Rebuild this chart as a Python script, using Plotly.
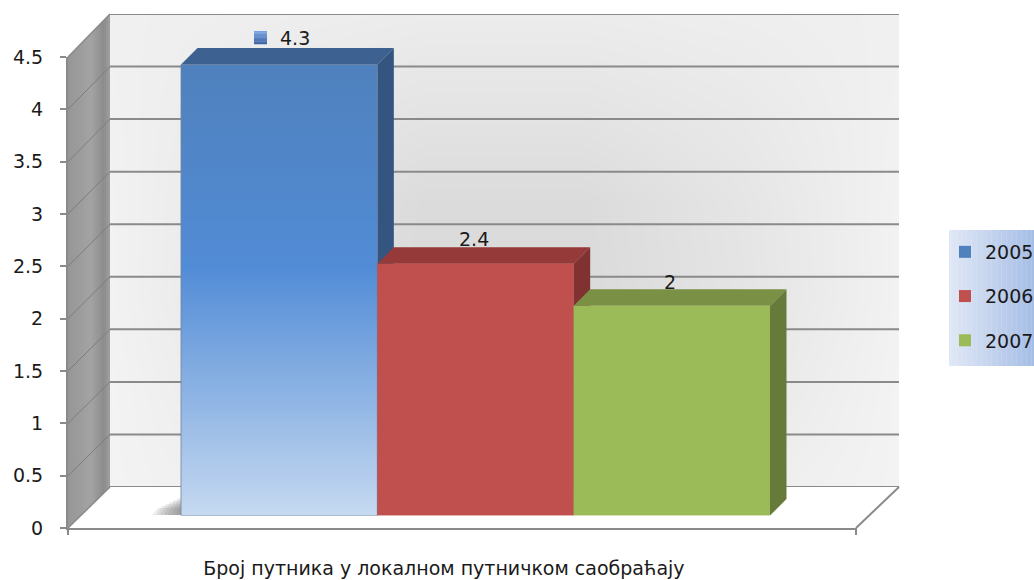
import plotly.graph_objects as go

# ---- data ----
CATEGORY = "Број путника у локалном путничком саобраћају"
YEARS = ["2005", "2006", "2007"]
VALUES = [4.3, 2.4, 2]
LABELS = ["4.3", "2.4", "2"]
Y_TICKS = [0, 0.5, 1, 1.5, 2, 2.5, 3, 3.5, 4, 4.5]
Y_TEXT = ["0", "0.5", "1", "1.5", "2", "2.5", "3", "3.5", "4", "4.5"]

# ---- styling ----
W, H = 1034, 580
FONT = "DejaVu Sans"
TXT = "#1a1a1a"
FRONT = ["#4f81bd", "#c0504d", "#9bbb59"]
TOP = ["#3d6190", "#953a38", "#7a9045"]
SIDE = ["#33557f", "#7f3230", "#667a39"]
LINE = "#8a8a8a"
# grey levels of the back wall, read on a coarse grid (bottom row first)
WALL_GREY = [
    [243, 238, 235, 236, 238, 243],
    [243, 232, 225, 226, 232, 243],
    [242, 228, 218, 218, 228, 242],
    [242, 229, 219, 219, 229, 242],
    [241, 233, 228, 228, 233, 241],
    [240, 238, 236, 236, 238, 240],
]


def px(x):
    return x / W


def py(y):
    return 1 - y / H


def mix(a, b, t):
    return tuple(a[i] + (b[i] - a[i]) * t for i in range(3))


def rgb(c):
    return "rgb(%d,%d,%d)" % tuple(round(v) for v in c)


# pixel frames
BACK_L, BACK_R, BACK_0, BACK_T = 110, 899, 487, 14
FR_L, FR_R, FR_0, FR_T = 68, 856, 528, 57
BAR_L, BAR_R, BAR_0, UNIT = 81.5, 869.5, 515.6, 104.9
GROUP_L, GROUP_R = 181, 770
DEPTH_PX = 16.5

shapes = []
annotations = []


def pshape(points, fill=None, line=None, lw=0, layer="below"):
    path = "M" + "L".join(f"{px(x):.5f},{py(y):.5f}" for x, y in points) + ("Z" if fill else "")
    shapes.append(dict(type="path", path=path, xref="paper", yref="paper", layer=layer,
                       fillcolor=fill if fill else "rgba(0,0,0,0)",
                       line=dict(color=line if line else "rgba(0,0,0,0)", width=lw)))


# left wall
wall_stops = [(0, (150, 150, 150)), (0.55, (163, 163, 163)), (0.85, (140, 140, 140)), (1, (160, 160, 160))]
N = 21
for i in range(N):
    t0, t1 = i / N, (i + 1.4) / N
    tm = (i + 0.5) / N
    for (a, ca), (b, cb) in zip(wall_stops, wall_stops[1:]):
        if a <= tm <= b:
            col = mix(ca, cb, (tm - a) / (b - a))
    x0 = FR_L + (BACK_L - FR_L) * t0
    x1 = FR_L + (BACK_L - FR_L) * min(t1, 1)
    f = lambda yf, yb, x: yf + (yb - yf) * (x - FR_L) / (BACK_L - FR_L)
    pshape([(x0, f(FR_T, BACK_T, x0)), (x1, f(FR_T, BACK_T, x1)),
            (x1, f(FR_0, BACK_0, x1)), (x0, f(FR_0, BACK_0, x0))], fill=rgb(col))

# left-wall gridlines and edges
front_unit = (FR_0 - FR_T) / 4.5
back_unit = (BACK_0 - BACK_T) / 4.5
for v in Y_TICKS:
    w = 1 if 0 < v < 4.5 else 1.5
    pshape([(FR_L, FR_0 - v * front_unit), (BACK_L, BACK_0 - v * back_unit)],
           line="#7c7c7c" if 0 < v < 4.5 else LINE, lw=w)
pshape([(FR_R, FR_0), (BACK_R, BACK_0)], line=LINE, lw=2)

# shadow left of the first bar on the floor
for i in range(7):
    a = 152 + i * 4
    top = 508 - i * 2
    pshape([(a, 515), (181, 515), (181, top), (a + 6, top)], fill="rgba(110,110,110,0.13)")

# 3D faces of the bars, computed from the values on the bar axes
n = len(VALUES)
bar_span = BAR_R - BAR_L
gap = 1 - (GROUP_R - GROUP_L) / bar_span
width_u = (1 - gap) / n
dx = DEPTH_PX / bar_span
dy = DEPTH_PX / UNIT


def face(points, fill):
    path = "M" + "L".join(f"{x:.5f},{y:.5f}" for x, y in points) + "Z"
    shapes.append(dict(type="path", path=path, xref="x3", yref="y3", layer="above",
                       fillcolor=fill, line=dict(width=0)))


for i, v in enumerate(VALUES):
    xa = -0.5 + gap / 2 + i * width_u
    xb = xa + width_u
    face([(xa, v), (xa + dx, v + dy), (xb + dx, v + dy), (xb, v)], TOP[i])
    face([(xb, 0), (xb + dx, dy), (xb + dx, v + dy), (xb, v)], SIDE[i])
    if i == 0:
        # blue front gradient, top -> bottom
        stops = [(0, (79, 129, 189)), (0.45, (82, 140, 214)), (1, (198, 217, 241))]
        m = 150
        for k in range(m):
            t = (k + 0.5) / m
            for (a, ca), (b, cb) in zip(stops, stops[1:]):
                if a <= t <= b:
                    col = mix(ca, cb, (t - a) / (b - a))
            y1 = v * (1 - k / m)
            y0 = v * (1 - (k + 1.5) / m)
            face([(xa, max(y0, 0)), (xb, max(y0, 0)), (xb, y1), (xa, y1)], rgb(col))
        # outline of blue bar
        shapes.append(dict(type="rect", xref="x3", yref="y3", layer="above",
                           x0=xa, x1=xb, y0=0, y1=v,
                           line=dict(color="rgba(110,130,160,0.8)", width=1)))
    else:
        face([(xa, 0), (xb, 0), (xb, v), (xa, v)], FRONT[i])

# value labels
label_x = [295, 474, 670]
label_y = [38, 239, 282]
for t, x, y in zip(LABELS, label_x, label_y):
    annotations.append(dict(text=t, x=px(x), y=py(y), xref="paper", yref="paper", showarrow=False,
                            font=dict(family=FONT, size=19, color=TXT), xanchor="center", yanchor="middle"))
# legend key beside the 4.3 label
for k in range(10):
    c = mix((120, 165, 225), (60, 100, 165), k / 9)
    shapes.append(dict(type="rect", xref="paper", yref="paper", layer="above",
                       x0=px(254), x1=px(267), y0=py(31 + k * 1.3), y1=py(31 + (k + 1.2) * 1.3),
                       fillcolor=rgb(c), line=dict(width=0)))

# legend background gradient
for k in range(34):
    c = mix((224, 231, 245), (166, 190, 230), k / 33)
    x0 = 949 + k * 2.5
    shapes.append(dict(type="rect", xref="paper", yref="paper", layer="below",
                       x0=px(x0), x1=px(x0 + 2.8), y0=py(230), y1=py(366),
                       fillcolor=rgb(c), line=dict(width=0)))

# axis end ticks
for x in (FR_L, FR_R):
    pshape([(x, FR_0), (x, FR_0 + 7)], line=LINE, lw=2)

fig = go.Figure()

# back wall (first subplot, drawn lowest)
fig.add_trace(go.Heatmap(z=WALL_GREY, x=[0, 0.2, 0.4, 0.6, 0.8, 1], y=[0, 0.9, 1.8, 2.7, 3.6, 4.5],
                         zmin=200, zmax=255, colorscale=[[0, "rgb(200,200,200)"], [1, "rgb(255,255,255)"]],
                         zsmooth="best", showscale=False, hoverinfo="skip", xaxis="x", yaxis="y"))
gx, gy = [], []
for v in Y_TICKS:
    gx += [0, 1, None]
    gy += [v, v, None]
fig.add_trace(go.Scatter(x=gx, y=gy, mode="lines", line=dict(color=LINE, width=2), cliponaxis=False,
                         showlegend=False, hoverinfo="skip", xaxis="x", yaxis="y"))

# front axes: needs a trace so the subplot exists
fig.add_trace(go.Scatter(x=[0.5], y=[0], mode="markers", marker=dict(opacity=0), showlegend=False,
                         hoverinfo="skip", xaxis="x2", yaxis="y2"))

# bars
for i, (yr, v) in enumerate(zip(YEARS, VALUES)):
    fig.add_trace(go.Bar(x=[CATEGORY], y=[v], name=yr, marker=dict(color=FRONT[i], line=dict(width=0)),
                         xaxis="x3", yaxis="y3", legendgroup=yr))

fig.update_layout(
    width=W, height=H, margin=dict(l=0, r=0, t=0, b=0, autoexpand=False),
    paper_bgcolor="white", plot_bgcolor="rgba(0,0,0,0)",
    barmode="group", bargap=gap, bargroupgap=0,
    font=dict(family=FONT, size=17, color=TXT),
    shapes=shapes, annotations=annotations,
    xaxis=dict(domain=[px(BACK_L), px(BACK_R)], range=[0, 1], visible=False),
    yaxis=dict(domain=[py(BACK_0), py(BACK_T)], range=[0, 4.5], visible=False),
    xaxis2=dict(domain=[px(FR_L), px(FR_R)], range=[0, 1], tickmode="array", tickvals=[0.477], ticktext=[CATEGORY],
                ticks="", showgrid=False, zeroline=False, showline=True, linecolor=LINE, linewidth=2,
                ticklabelstandoff=22, tickfont=dict(family=FONT, size=19, color=TXT), anchor="y2"),
    yaxis2=dict(domain=[py(FR_0), py(FR_T)], range=[0, 4.5], tickmode="array", tickvals=Y_TICKS, ticktext=Y_TEXT,
                ticks="outside", ticklen=6, tickwidth=2, tickcolor=LINE, showgrid=False, zeroline=False,
                showline=True, linecolor=LINE, linewidth=2, ticklabelstandoff=13,
                tickfont=dict(family=FONT, size=19, color=TXT), anchor="x2"),
    xaxis3=dict(domain=[px(BAR_L), px(BAR_R)], type="category", range=[-0.5, 0.5], visible=False, anchor="y3"),
    yaxis3=dict(domain=[py(BAR_0), py(BAR_0 - 4.5 * UNIT)], range=[0, 4.5], visible=False, anchor="x3"),
    legend=dict(x=px(945), y=py(233), xanchor="left", yanchor="top", bgcolor="rgba(0,0,0,0)",
                traceorder="grouped", tracegroupgap=16.5, font=dict(family=FONT, size=19, color=TXT),
                itemclick=False, itemdoubleclick=False),
    showlegend=True,
)

fig.write_html("out.html", config={"displayModeBar": False},
               post_script="document.body.style.margin='0';document.body.style.overflow='hidden';")
